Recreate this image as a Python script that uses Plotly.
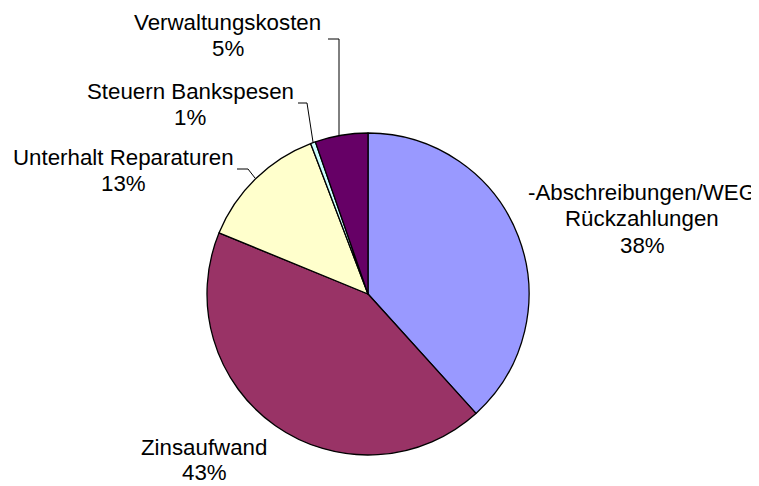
import plotly.graph_objects as go

categories = ["-Abschreibungen/WEG Rückzahlungen", "Zinsaufwand", "Unterhalt Reparaturen",
              "Steuern Bankspesen", "Verwaltungskosten"]
label_lines = [["-Abschreibungen/WEG", "Rückzahlungen"], ["Zinsaufwand"], ["Unterhalt Reparaturen"],
               ["Steuern Bankspesen"], ["Verwaltungskosten"]]
values = [38.3, 42.9, 13.0, 0.5, 5.3]
pct_labels = ["38%", "43%", "13%", "1%", "5%"]
colors = ["#9999FF", "#993366", "#FFFFCC", "#CCFFFF", "#660066"]

# page body has an 8px margin; work in reference pixel coordinates and shift
OFF = 8
W, H = 759 - OFF, 486 - OFF
def px(x):
    return (x - OFF) / W
def py(y):
    return 1 - (y - OFF) / H

fig = go.Figure(go.Pie(
    labels=categories, values=values, sort=False, direction="clockwise", rotation=0,
    marker=dict(colors=colors, line=dict(color="black", width=1.3)),
    textinfo="none", hoverinfo="label+percent", showlegend=False,
    domain=dict(x=[px(207), px(529)], y=[py(455), py(133)]),
))

# label placement: center x and y of first line (reference pixels), line step
label_pos = [(642, 192, 26.5), (204, 447, 25), (123, 157, 26.5), (190, 91, 26.5), (228, 22, 26.5)]
font = dict(family="Liberation Sans, Arial, sans-serif", size=22.3, color="black")
for lines, pct, (x, y, step) in zip(label_lines, pct_labels, label_pos):
    for i, t in enumerate(lines + [pct]):
        fig.add_annotation(x=px(x), y=py(y + i * step), xref="paper", yref="paper", text=t,
                           showarrow=False, xanchor="center", yanchor="middle", align="center",
                           font=font)

leaders = [
    [(328, 39), (339, 39), (339, 136)],
    [(298, 103), (307, 103), (313, 142)],
    [(237, 169), (248, 169), (255, 178)],
]
for pts in leaders:
    path = "M " + " L ".join(f"{px(x)},{py(y)}" for x, y in pts)
    fig.add_shape(type="path", path=path, xref="paper", yref="paper",
                  line=dict(color="black", width=1))

fig.update_layout(width=W, height=H, margin=dict(l=0, r=0, t=0, b=0),
                  paper_bgcolor="white", plot_bgcolor="white")
fig.write_html("out.html")
